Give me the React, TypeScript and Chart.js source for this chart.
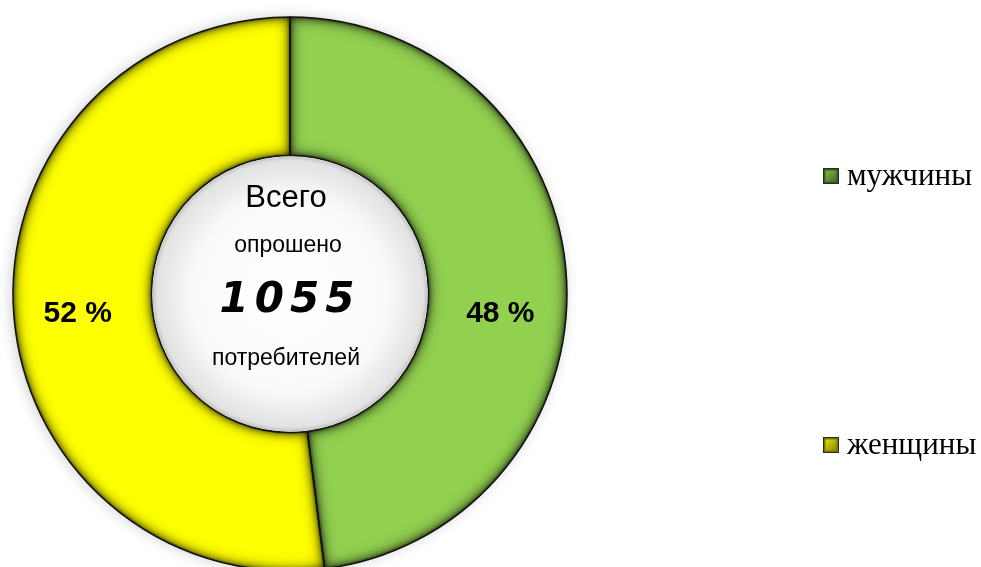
import { useEffect, useRef } from "react";
import { Chart, registerables } from "chart.js";

Chart.register(...registerables);

const categories = ["мужчины", "женщины"];
const percentValues = [48, 52];
const valueLabels = ["48 %", "52 %"];
const centerTitle = "Всего";
const centerSub = "опрошено";
const centerNumber = "1055";
const centerUnit = "потребителей";
const sliceColors = ["#92D050", "#FFFF00"];
const legendDark = ["#355e18", "#7a7600"];
const legendLight = ["#8fc85a", "#f2ee10"];

function arcPath(ctx: CanvasRenderingContext2D, p: any) {
  ctx.beginPath();
  ctx.moveTo(p.x + p.outerRadius * Math.cos(p.startAngle), p.y + p.outerRadius * Math.sin(p.startAngle));
  ctx.arc(p.x, p.y, p.outerRadius, p.startAngle, p.endAngle);
  ctx.arc(p.x, p.y, p.innerRadius, p.endAngle, p.startAngle, true);
  ctx.closePath();
}

const decorPlugin = {
  id: "decor",
  beforeDatasetsDraw(chart: any) {
    const ctx: CanvasRenderingContext2D = chart.ctx;
    const meta = chart.getDatasetMeta(0);
    if (!meta.data.length) return;
    const p = meta.data[0].getProps(["x", "y", "innerRadius", "outerRadius"], true);
    ctx.save();
    ctx.shadowColor = "rgba(0,0,0,0.2)";
    ctx.shadowBlur = 14;
    ctx.shadowOffsetX = -2;
    ctx.fillStyle = "#ffffff";
    ctx.beginPath();
    ctx.arc(p.x, p.y, p.outerRadius, 0, Math.PI * 2);
    ctx.fill();
    ctx.restore();
  },
  afterDatasetsDraw(chart: any) {
    const ctx: CanvasRenderingContext2D = chart.ctx;
    const meta = chart.getDatasetMeta(0);
    const passes = [
      { color: "rgba(0,0,0,0.55)", blur: 16 },
      { color: "rgba(0,0,0,0.7)", blur: 8 },
      { color: "rgba(0,0,0,0.9)", blur: 3 },
    ];
    meta.data.forEach((el: any) => {
      const p = el.getProps(["x", "y", "startAngle", "endAngle", "innerRadius", "outerRadius"], true);
      passes.forEach((ps) => {
        ctx.save();
        arcPath(ctx, p);
        ctx.clip();
        ctx.beginPath();
        ctx.rect(-5000, -5000, 10000, 10000);
        ctx.moveTo(p.x + p.outerRadius * Math.cos(p.startAngle), p.y + p.outerRadius * Math.sin(p.startAngle));
        ctx.arc(p.x, p.y, p.outerRadius, p.startAngle, p.endAngle);
        ctx.arc(p.x, p.y, p.innerRadius, p.endAngle, p.startAngle, true);
        ctx.closePath();
        ctx.shadowColor = ps.color;
        ctx.shadowBlur = ps.blur;
        ctx.fillStyle = "#000";
        ctx.fill("evenodd");
        ctx.restore();
      });
      ctx.save();
      arcPath(ctx, p);
      ctx.lineWidth = 1.5;
      ctx.lineJoin = "round";
      ctx.strokeStyle = "#141414";
      ctx.stroke();
      ctx.restore();
    });
    if (!meta.data.length) return;
    const c = meta.data[0].getProps(["x", "y", "innerRadius", "outerRadius"], true);
    // hole shading
    ctx.save();
    const g = ctx.createRadialGradient(c.x, c.y, 0, c.x, c.y, c.innerRadius);
    g.addColorStop(0, "#ffffff");
    g.addColorStop(0.7, "#fafafa");
    g.addColorStop(0.96, "#e2e2e2");
    g.addColorStop(1, "#bdbdbd");
    ctx.fillStyle = g;
    ctx.beginPath();
    ctx.arc(c.x, c.y, c.innerRadius - 1, 0, Math.PI * 2);
    ctx.fill();
    ctx.restore();

    // value labels
    meta.data.forEach((el: any, i: number) => {
      const pos = el.tooltipPosition();
      const dx = pos.x > c.x ? 3 : -5;
      ctx.save();
      ctx.font = "bold 30px 'Liberation Sans', Arial, sans-serif";
      ctx.fillStyle = "#000";
      ctx.textAlign = "center";
      ctx.textBaseline = "middle";
      ctx.fillText(valueLabels[i], pos.x + dx, c.y + 20);
      ctx.restore();
    });

    // center text
    ctx.save();
    ctx.fillStyle = "#000";
    ctx.textAlign = "center";
    ctx.textBaseline = "alphabetic";
    ctx.font = "31px 'Liberation Sans', Arial, sans-serif";
    ctx.fillText(centerTitle, c.x - 4, c.y - 87);
    ctx.font = "23px 'Liberation Sans', Arial, sans-serif";
    ctx.fillText(centerSub, c.x - 2, c.y - 42);
    ctx.font = "bold italic 42px 'DejaVu Sans', sans-serif";
    (ctx as any).letterSpacing = "6px";
    ctx.fillText(centerNumber, c.x, c.y + 18);
    (ctx as any).letterSpacing = "0px";
    ctx.font = "23px 'Liberation Sans', Arial, sans-serif";
    ctx.fillText(centerUnit, c.x - 4, c.y + 71);
    ctx.restore();

    // legend
    const legendY = [176, 445];
    categories.forEach((name, i) => {
      const s = 16;
      const x = 823;
      const y = legendY[i] - s / 2;
      ctx.save();
      ctx.fillStyle = legendDark[i];
      ctx.fillRect(x, y, s, s);
      const lg = ctx.createLinearGradient(x, y, x + s, y + s);
      lg.addColorStop(0, legendLight[i]);
      lg.addColorStop(1, legendDark[i]);
      ctx.fillStyle = lg;
      ctx.fillRect(x + 2.5, y + 2.5, s - 5, s - 5);
      ctx.strokeStyle = "#2a2a2a";
      ctx.lineWidth = 1;
      ctx.strokeRect(x + 0.5, y + 0.5, s - 1, s - 1);
      ctx.fillStyle = "#000";
      ctx.font = "31px 'Liberation Serif', 'Times New Roman', serif";
      ctx.textAlign = "left";
      ctx.textBaseline = "alphabetic";
      ctx.fillText(name, x + 24, legendY[i] + 9);
      ctx.restore();
    });
  },
};

export default function App() {
  const ref = useRef<HTMLCanvasElement | null>(null);
  useEffect(() => {
    if (!ref.current) return;
    const chart = new Chart(ref.current, {
      type: "doughnut",
      data: {
        labels: categories,
        datasets: [
          {
            data: percentValues,
            backgroundColor: sliceColors,
            borderColor: "#1c1c1c",
            borderWidth: 0,
          },
        ],
      },
      options: {
        responsive: false,
        animation: false,
        devicePixelRatio: 1,
        cutout: "50%",
        layout: { padding: { left: 13, right: 414, top: 17, bottom: 29 } },
        plugins: {
          legend: { display: false },
          tooltip: { enabled: false },
        },
      },
      plugins: [decorPlugin],
    });
    return () => chart.destroy();
  }, []);
  return (
    <div
      style={{
        position: "fixed",
        left: 0,
        top: 0,
        width: 981,
        height: 567,
        overflow: "hidden",
        background: "#fff",
      }}
    >
      <canvas ref={ref} width={981} height={600} style={{ display: "block" }} />
    </div>
  );
}
